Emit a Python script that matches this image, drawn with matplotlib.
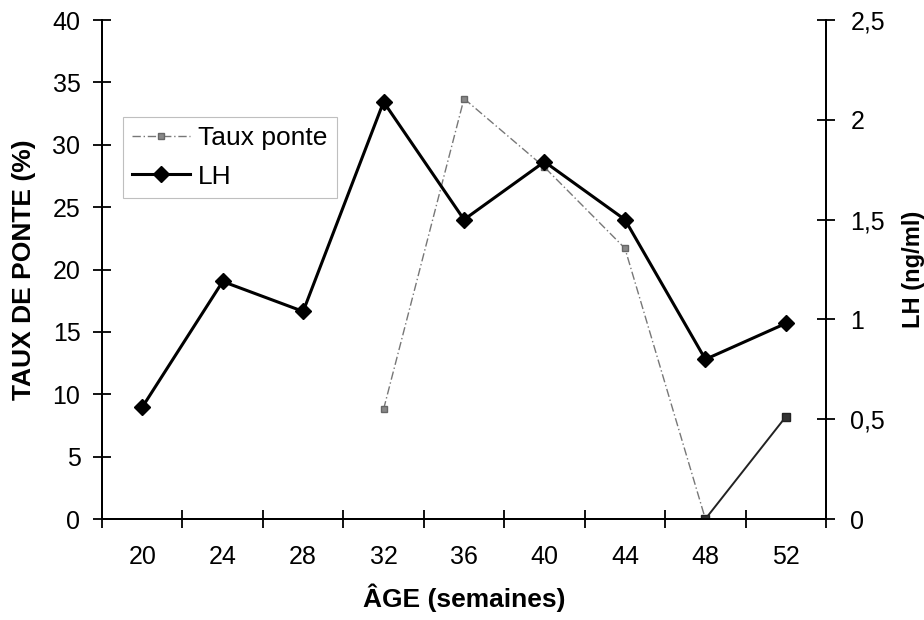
import matplotlib
matplotlib.use("Agg")
import matplotlib.pyplot as plt
import numpy as np

plt.rcParams['font.family'] = ['Liberation Sans', 'DejaVu Sans']

ages = ["20", "24", "28", "32", "36", "40", "44", "48", "52"]
taux_ponte = [np.nan, np.nan, np.nan, 8.8, 33.7, 28.2, 21.7, 0.0, 8.2]
lh = [0.56, 1.19, 1.04, 2.09, 1.50, 1.79, 1.50, 0.80, 0.98]
left_ticks = [0, 5, 10, 15, 20, 25, 30, 35, 40]
right_ticks = [0, 0.5, 1, 1.5, 2, 2.5]
right_labels = ["0", "0,5", "1", "1,5", "2", "2,5"]

fig = plt.figure(figsize=(9.24, 6.2), dpi=100)
ax = fig.add_axes([0.1104, 0.1629, 0.7836, 0.8048])
ax2 = ax.twinx()

x = np.arange(len(ages))
tp = np.array(taux_ponte)

ax.plot(x[:8], tp[:8], color='#777777', lw=1.0, ls=(0, (6, 2, 1, 2)),
        marker='s', ms=5, mfc='#888888', mec='#666666', label='Taux ponte', zorder=3)
ax.plot(x[7:], tp[7:], color='#222222', lw=1.4, marker='s', ms=6,
        mfc='#333333', mec='#222222', zorder=3)
ax2.plot(x, lh, color='black', lw=2.2, marker='D', ms=8, label='LH', zorder=4)

ax.set_xlim(-0.5, len(ages) - 0.5)
ax.set_ylim(0, 40)
ax2.set_ylim(0, 2.5)
ax.set_xticks(x)
ax.set_xticklabels(ages)
ax.set_xticks(np.arange(len(ages) + 1) - 0.5, minor=True)
ax.set_yticks(left_ticks)
ax2.set_yticks(right_ticks)
ax2.set_yticklabels(right_labels)

for a in (ax, ax2):
    a.spines['top'].set_visible(False)
    for s in ('left', 'right', 'bottom'):
        a.spines[s].set_linewidth(1.4)
        a.spines[s].set_color('black')

ax.tick_params(axis='x', which='major', length=0, labelsize=18, pad=19)
ax.tick_params(axis='x', which='minor', direction='inout', length=13, width=1.3)
ax.tick_params(axis='y', direction='inout', length=13, width=1.3, labelsize=18, pad=9)
ax2.tick_params(axis='y', direction='inout', length=13, width=1.3, labelsize=18, pad=11)

ax.set_xlabel("ÂGE (semaines)", fontsize=19, fontweight='bold', labelpad=10)
ax.set_ylabel("TAUX DE PONTE (%)", fontsize=19, fontweight='bold', labelpad=12)
ax2.set_ylabel("LH (ng/ml)", fontsize=17, fontweight='bold', labelpad=12)

h1, l1 = ax.get_legend_handles_labels()
h2, l2 = ax2.get_legend_handles_labels()
leg = ax.legend(h1 + h2, l1 + l2, loc='upper left', bbox_to_anchor=(0.029, 0.806),
                fontsize=19, frameon=True, fancybox=False, edgecolor='#b0b0b0',
                handlelength=2.2, handletextpad=0.3, borderpad=0.35, labelspacing=0.55,
                borderaxespad=0)
leg.get_frame().set_linewidth(0.8)
leg.set_zorder(10)

fig.savefig("out.png", dpi=100)
